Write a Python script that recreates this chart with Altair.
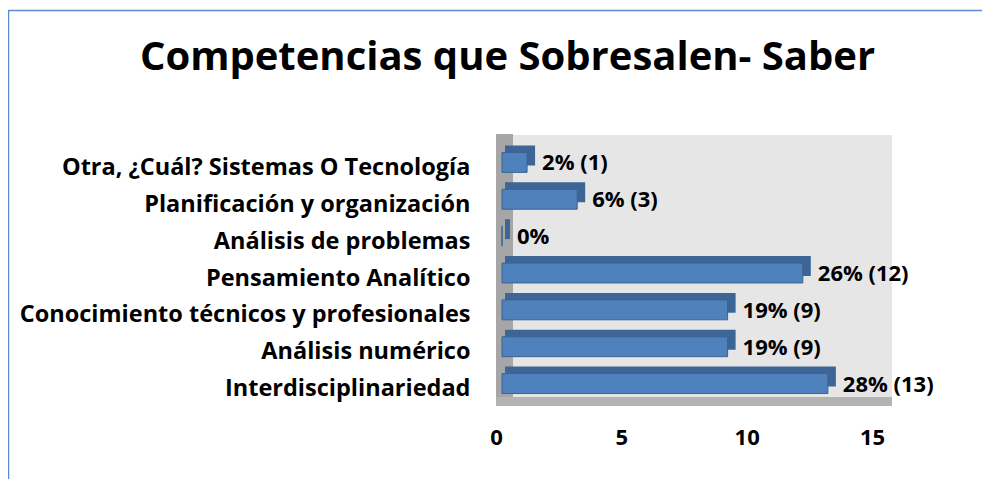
import json
import altair as alt
import pandas as pd

categories = [
    "Otra, ¿Cuál? Sistemas O Tecnología",
    "Planificación y organización",
    "Análisis de problemas",
    "Pensamiento Analítico",
    "Conocimiento técnicos y profesionales",
    "Análisis numérico",
    "Interdisciplinariedad",
]
counts = [1, 3, 0, 12, 9, 9, 13]
value_labels = ["2% (1)", "6% (3)", "0%", "26% (12)", "19% (9)", "19% (9)", "28% (13)"]
x_ticks = [0, 5, 10, 15]
title_text = "Competencias que Sobresalen- Saber"

df = pd.DataFrame({"cat": categories, "count": counts, "lab": value_labels})
df["pos"] = range(len(categories))

FONT = "Open Sans"
FRONT = "#4f81bd"
DEPTH = "#3d6596"

n = len(categories)
label_expr = json.dumps(categories) + "[floor(datum.value)]"

xaxis = alt.Axis(values=x_ticks, grid=False, domain=False, ticks=False,
                 labelFont=FONT, labelFontSize=22, labelFontWeight="bold",
                 labelColor="#000", labelPadding=25, labelOffset=-6,
                 labelFlush=False, title=None)
yaxis = alt.Axis(values=[i + 0.5 for i in range(n)], labelExpr=label_expr,
                 grid=False, domain=False, ticks=False,
                 labelFont=FONT, labelFontSize=23.5, labelFontWeight="bold",
                 labelColor="#000", labelPadding=32, labelOffset=5,
                 labelLimit=600, title=None)
xs = alt.Scale(domain=[0, 15], nice=False, zero=True)
ys = alt.Scale(domain=[0, n], reverse=True, nice=False, zero=False)

base = alt.Chart(df).transform_calculate(
    y0="datum.pos + 0.5 - 0.27",
    y1="datum.pos + 0.5 + 0.27",
    yc="datum.pos + 0.5",
)

one = alt.Data(values=[{"a": 1}])

# chart border (blue frame)
frame = alt.Chart(one).mark_rect(fill=None, stroke="#5b8bd0", strokeWidth=1.5).encode(
    x=alt.value(-493.5), x2=alt.value(700), y=alt.value(-133.5), y2=alt.value(600)
)

title = alt.Chart(one).mark_text(text=title_text, font=FONT, fontSize=40, fontWeight="bold",
                                 color="#000", align="center", baseline="alphabetic").encode(
    x=alt.value(5.5), y=alt.value(-74)
)

back_wall = alt.Chart(one).mark_rect(color="#e6e6e6", xOffset=11, x2Offset=14,
                                     yOffset=-9, y2Offset=-5).encode(
    x=alt.X(datum=0, scale=xs, axis=xaxis), x2=alt.X2(datum=15),
    y=alt.Y(datum=0, scale=ys, axis=yaxis), y2=alt.Y2(datum=n),
)
left_wall = alt.Chart(one).mark_rect(color="#a6a6a6", xOffset=-6, x2Offset=11,
                                     yOffset=-10, y2Offset=4).encode(
    x=alt.X(datum=0, scale=xs, axis=xaxis), x2=alt.X2(datum=0),
    y=alt.Y(datum=0, scale=ys, axis=yaxis), y2=alt.Y2(datum=n),
)
floor = alt.Chart(one).mark_rect(color="#b3b3b3", xOffset=-6, x2Offset=14,
                                 yOffset=-5, y2Offset=4).encode(
    x=alt.X(datum=0, scale=xs, axis=xaxis), x2=alt.X2(datum=15),
    y=alt.Y(datum=n, scale=ys, axis=yaxis), y2=alt.Y2(datum=n),
)

bar_depth = base.mark_rect(color=DEPTH, x2Offset=3, xOffset=8,
                           yOffset=-7, y2Offset=-7).encode(
    x=alt.X("count:Q", scale=xs, axis=xaxis), x2=alt.X2(datum=0),
    y=alt.Y("y0:Q", scale=ys, axis=yaxis), y2="y1:Q",
)
bar_front = base.mark_rect(color=FRONT, stroke="#3a6394", strokeWidth=1).encode(
    x=alt.X("count:Q", scale=xs, axis=xaxis), x2=alt.X2(datum=0),
    y=alt.Y("y0:Q", scale=ys, axis=yaxis), y2="y1:Q",
)
text = base.mark_text(align="left", baseline="middle", dx=15, dy=1, font=FONT,
                      fontSize=22, fontWeight="bold", color="#000").encode(
    x=alt.X("count:Q", scale=xs, axis=xaxis),
    y=alt.Y("yc:Q", scale=ys, axis=yaxis),
    text="lab:N",
)

chart = alt.layer(frame, title, back_wall, left_wall, floor, bar_depth, bar_front, text).properties(
    width=376, height=258,
    autosize=alt.AutoSizeParams(type="none"),
    padding={"left": 494, "top": 136, "right": 104, "bottom": 77},
    background="white",
).configure_view(strokeWidth=0)

chart.save("out.html", embed_options={"renderer": "svg", "actions": False})
